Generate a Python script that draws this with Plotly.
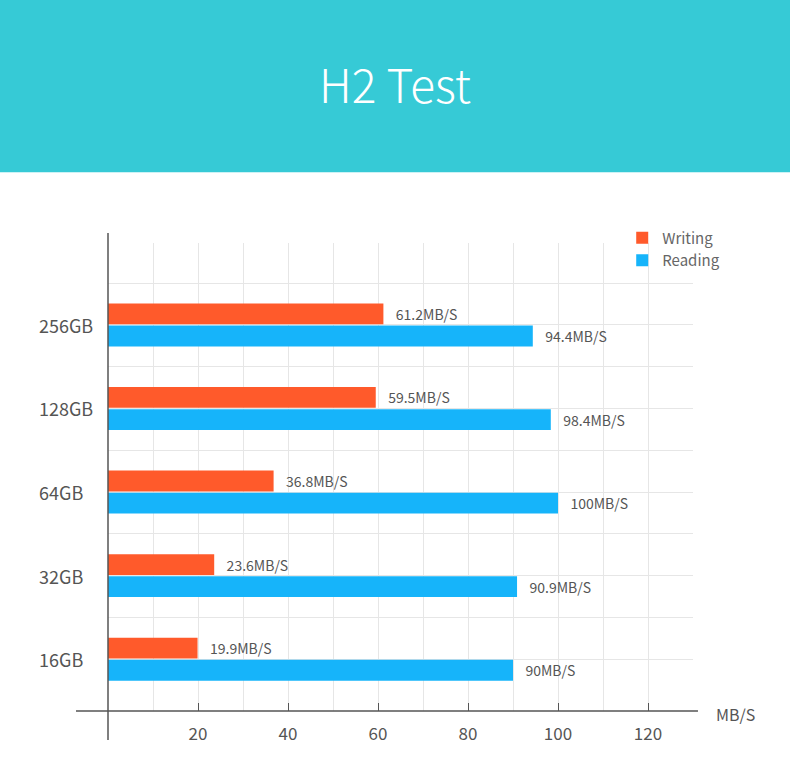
#!/usr/bin/env python3
"""
H2 Test: writing / reading speed per card capacity
Horizontal grouped bars, banner title on top
"""

import plotly.graph_objects as go

# Data (top to bottom)
CAPACITIES = ["256GB", "128GB", "64GB", "32GB", "16GB"]
WRITING = [61.2, 59.5, 36.8, 23.6, 19.9]
READING = [94.4, 98.4, 100, 90.9, 90]
X_TICKS = [20, 40, 60, 80, 100, 120]

# Style
FONT = "Noto Sans CJK SC, Noto Sans, sans-serif"
TEXT_GREY = "#555555"
ORANGE = "#FF5A2B"
BLUE = "#16B4FA"
TEAL = "#36CAD6"
GRID = "#E6E6E6"
AXIS = "#555555"

n = len(CAPACITIES)
y_pos = [n - 1 - i for i in range(n)]  # 256GB at the top

fig = go.Figure()

# Reading first so that it sits below Writing in each group
fig.add_trace(go.Bar(
    x=READING, y=y_pos, orientation='h',
    name='Reading', legendrank=2,
    marker=dict(color=BLUE, line=dict(width=0)),
    texttemplate='\u00a0\u00a0\u00a0%{x}MB/S', textposition='outside',
    constraintext='none', cliponaxis=False,
    textfont=dict(size=14, color=TEXT_GREY, family=FONT),
))
fig.add_trace(go.Bar(
    x=WRITING, y=y_pos, orientation='h',
    name='Writing', legendrank=1,
    marker=dict(color=ORANGE, line=dict(width=0)),
    texttemplate='\u00a0\u00a0\u00a0%{x}MB/S', textposition='outside',
    constraintext='none', cliponaxis=False,
    textfont=dict(size=14, color=TEXT_GREY, family=FONT),
))

# Capacity labels, left aligned like the original
annotations = []
for cap, y in zip(CAPACITIES, y_pos):
    annotations.append(dict(
        text=cap, xref='paper', yref='y', x=-0.121, y=y,
        xanchor='left', yanchor='middle', showarrow=False,
        font=dict(size=18, color=TEXT_GREY, family=FONT),
    ))
annotations.append(dict(
    text="MB/S", xref='paper', yref='paper', x=1.036, y=0, yshift=-3,
    xanchor='left', yanchor='middle', showarrow=False,
    font=dict(size=16, color=TEXT_GREY, family=FONT),
))

shapes = [
    # banner
    dict(type='rect', xref='paper', yref='paper', x0=-0.25, x1=1.25,
         y0=1.151, y1=1.6, fillcolor=TEAL, line=dict(width=0), layer='below'),
    # x axis line, running past the y axis
    dict(type='line', xref='paper', yref='paper', x0=-0.0547, x1=1.0085,
         y0=0, y1=0, line=dict(color=AXIS, width=1.5)),
    # y axis line, running past the x axis
    dict(type='line', xref='paper', yref='paper', x0=0, x1=0,
         y0=-0.0617, y1=1.0213, line=dict(color=AXIS, width=1.5)),
]

fig.update_layout(
    width=790, height=757,
    margin=dict(l=108, r=97, t=243, b=44),
    paper_bgcolor='white', plot_bgcolor='white',
    font=dict(family=FONT, color=TEXT_GREY),
    title=dict(
        text="H2 Test", x=0.5, xref='container', y=0.885, yanchor='middle',
        font=dict(size=46, color='white', family=FONT, weight=300),
    ),
    barmode='group', bargap=0.47, bargroupgap=0.06,
    xaxis=dict(
        range=[0, 130], tickvals=X_TICKS,
        ticks='inside', ticklen=8, tickcolor=AXIS, tickwidth=1.2,
        tickfont=dict(size=17, color=TEXT_GREY, family=FONT),
        ticklabelstandoff=11,
        showgrid=True, gridcolor=GRID, gridwidth=1,
        minor=dict(dtick=10, tick0=0, showgrid=True, gridcolor=GRID, gridwidth=1),
        zeroline=False, showline=False,
    ),
    yaxis=dict(
        range=[-0.62, 4.98], tickvals=y_pos, showticklabels=False,
        showgrid=True, gridcolor=GRID, gridwidth=1,
        minor=dict(tickvals=[y + 0.5 for y in y_pos], showgrid=True,
                   gridcolor=GRID, gridwidth=1),
        zeroline=False, showline=False,
    ),
    legend=dict(
        x=0.879, y=1.046, xanchor='left', yanchor='top',
        bgcolor='rgba(0,0,0,0)',
        font=dict(size=15, color='#666666', family=FONT),
    ),
    annotations=annotations,
    shapes=shapes,
)

# drop the default page margin so the figure fills the window
fig.write_html("out.html", config={"displayModeBar": False},
               post_script="document.body.style.margin = '0';")
